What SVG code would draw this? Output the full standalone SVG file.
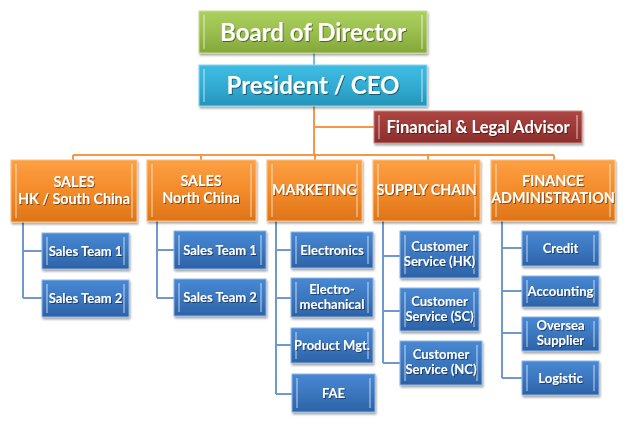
<svg xmlns="http://www.w3.org/2000/svg" width="626" height="429" viewBox="0 0 626 429">
<defs>
<linearGradient id="gGreen" x1="0" y1="0" x2="0" y2="1"><stop offset="0" stop-color="#acd05f"/><stop offset="0.5" stop-color="#9bbf4e"/><stop offset="1" stop-color="#84a63a"/></linearGradient>
<linearGradient id="gTeal" x1="0" y1="0" x2="0" y2="1"><stop offset="0" stop-color="#40bce2"/><stop offset="0.5" stop-color="#33acd3"/><stop offset="1" stop-color="#2494b8"/></linearGradient>
<linearGradient id="gRed" x1="0" y1="0" x2="0" y2="1"><stop offset="0" stop-color="#ad4643"/><stop offset="0.5" stop-color="#9e3a37"/><stop offset="1" stop-color="#8a2e2b"/></linearGradient>
<linearGradient id="gOrange" x1="0" y1="0" x2="0" y2="1"><stop offset="0" stop-color="#fca044"/><stop offset="0.5" stop-color="#f48b2a"/><stop offset="1" stop-color="#dd7418"/></linearGradient>
<linearGradient id="gBlue" x1="0" y1="0" x2="0" y2="1"><stop offset="0" stop-color="#4888d2"/><stop offset="0.5" stop-color="#3b77c0"/><stop offset="1" stop-color="#2d62a6"/></linearGradient>
<filter id="shadow" x="-10%" y="-10%" width="125%" height="140%"><feDropShadow dx="1" dy="2" stdDeviation="1.3" flood-color="#000" flood-opacity="0.35"/></filter>
<filter id="tshadow" x="-10%" y="-30%" width="120%" height="160%"><feDropShadow dx="1" dy="1" stdDeviation="0.6" flood-color="#000" flood-opacity="0.45"/></filter>
</defs>
<style>
.box{filter:url(#shadow);stroke-width:1}
.green{fill:url(#gGreen);stroke:#c6de8f}
.teal{fill:url(#gTeal);stroke:#8ad8f0}
.red{fill:url(#gRed);stroke:#d08a88}
.orange{fill:url(#gOrange);stroke:#fcc27e}
.blue{fill:url(#gBlue);stroke:#8fb6e6}
.hl{fill:#ffffff;opacity:0.35}
.t{font-family:Lato,"Open Sans","Liberation Sans",sans-serif;font-weight:bold;fill:#ffffff;text-anchor:middle;filter:url(#tshadow)}
.t1{font-size:24px}
.t2{font-size:16.5px}
.t3{font-size:14.3px}
.t4{font-size:13px}
.co{fill:none;stroke:#f79646;stroke-width:2}
.ct{fill:none;stroke:#4bacc6;stroke-width:1.5}
.cb{fill:none;stroke:#7098cc;stroke-width:2}
</style>

<g id="connectors">
<line class="ct" x1="314" y1="53" x2="314" y2="65"/>
<path class="co" d="M314 106 V155 M314 127 H374 M73 155 H554 M73 155 V160 M201 155 V160 M315 155 V160 M428 155 V160 M554 155 V160"/>
<path class="cb" d="M23 222 V298 M23 251 H42 M23 298 H42"/>
<path class="cb" d="M157 221 V298 M157 250 H174 M157 298 H174"/>
<path class="cb" d="M276 221 V394 M276 250 H291 M276 298 H291 M276 345 H291 M276 394 H292"/>
<path class="cb" d="M383 221 V363 M383 256 H400 M383 311 H400 M383 363 H400"/>
<path class="cb" d="M502 221 V378 M502 248 H522 M502 291 H522 M502 333 H522 M502 378 H522"/>
</g>

<g id="board">
<rect class="box green" x="199" y="11" width="228" height="42"/>
<rect class="hl" x="203" y="15" width="2" height="34"/><rect class="hl" x="421" y="15" width="2" height="34"/>
<text class="t t1" x="313" y="40.5">Board of Director</text>
</g>
<g id="president">
<rect class="box teal" x="199" y="65" width="228" height="41"/>
<rect class="hl" x="203" y="69" width="2" height="33"/><rect class="hl" x="421" y="69" width="2" height="33"/>
<text class="t t1" x="313" y="93.5">President / CEO</text>
</g>
<g id="advisor">
<rect class="box red" x="374" y="111" width="208" height="32"/>
<rect class="hl" x="378" y="115" width="2" height="24"/><rect class="hl" x="576" y="115" width="2" height="24"/>
<text class="t t2" x="478" y="132.5">Financial &amp; Legal Advisor</text>
</g>

<g id="sales-hk">
<rect class="box orange" x="11" y="160" width="126" height="62"/>
<rect class="hl" x="15" y="164" width="2" height="54"/><rect class="hl" x="131" y="164" width="2" height="54"/>
<text class="t t3" x="74" y="187">SALES</text>
<text class="t t3" x="74" y="203.5">HK / South China</text>
</g>
<g id="sales-nc">
<rect class="box orange" x="147" y="160" width="109" height="61"/>
<rect class="hl" x="151" y="164" width="2" height="53"/><rect class="hl" x="250" y="164" width="2" height="53"/>
<text class="t t3" x="201" y="186">SALES</text>
<text class="t t3" x="201" y="202.5">North China</text>
</g>
<g id="marketing">
<rect class="box orange" x="267" y="160" width="95" height="61"/>
<rect class="hl" x="271" y="164" width="2" height="53"/><rect class="hl" x="356" y="164" width="2" height="53"/>
<text class="t t3" x="314.5" y="195">MARKETING</text>
</g>
<g id="supply-chain">
<rect class="box orange" x="373" y="160" width="107" height="61"/>
<rect class="hl" x="377" y="164" width="2" height="53"/><rect class="hl" x="474" y="164" width="2" height="53"/>
<text class="t t3" x="426.5" y="194.5">SUPPLY CHAIN</text>
</g>
<g id="finance">
<rect class="box orange" x="491" y="160" width="124" height="61"/>
<rect class="hl" x="495" y="164" width="2" height="53"/><rect class="hl" x="609" y="164" width="2" height="53"/>
<text class="t t3" x="553" y="186">FINANCE</text>
<text class="t t3" x="553" y="203">ADMINISTRATION</text>
</g>

<g id="hk-team1">
<rect class="box blue" x="42" y="233" width="87" height="36"/>
<rect class="hl" x="46" y="237" width="2" height="28"/><rect class="hl" x="123" y="237" width="2" height="28"/>
<text class="t t4" x="85.5" y="255.5">Sales Team 1</text>
</g>
<g id="hk-team2">
<rect class="box blue" x="42" y="280" width="87" height="37"/>
<rect class="hl" x="46" y="284" width="2" height="29"/><rect class="hl" x="123" y="284" width="2" height="29"/>
<text class="t t4" x="85.5" y="303">Sales Team 2</text>
</g>
<g id="nc-team1">
<rect class="box blue" x="174" y="231" width="92" height="38"/>
<rect class="hl" x="178" y="235" width="2" height="30"/><rect class="hl" x="260" y="235" width="2" height="30"/>
<text class="t t4" x="220" y="254.5">Sales Team 1</text>
</g>
<g id="nc-team2">
<rect class="box blue" x="174" y="279" width="92" height="37"/>
<rect class="hl" x="178" y="283" width="2" height="29"/><rect class="hl" x="260" y="283" width="2" height="29"/>
<text class="t t4" x="220" y="302">Sales Team 2</text>
</g>

<g id="electronics">
<rect class="box blue" x="291" y="232" width="82" height="36"/>
<rect class="hl" x="295" y="236" width="2" height="28"/><rect class="hl" x="367" y="236" width="2" height="28"/>
<text class="t t4" x="332" y="254.5">Electronics</text>
</g>
<g id="electro-mechanical">
<rect class="box blue" x="291" y="278" width="82" height="39"/>
<rect class="hl" x="295" y="282" width="2" height="31"/><rect class="hl" x="367" y="282" width="2" height="31"/>
<text class="t t4" x="332" y="294">Electro-</text>
<text class="t t4" x="332" y="309">mechanical</text>
</g>
<g id="product-mgt">
<rect class="box blue" x="291" y="328" width="82" height="35"/>
<rect class="hl" x="295" y="332" width="2" height="27"/><rect class="hl" x="367" y="332" width="2" height="27"/>
<text class="t t4" x="332" y="350">Product Mgt.</text>
</g>
<g id="fae">
<rect class="box blue" x="292" y="374" width="83" height="38"/>
<rect class="hl" x="296" y="378" width="2" height="30"/><rect class="hl" x="369" y="378" width="2" height="30"/>
<text class="t t4" x="333.5" y="397.5">FAE</text>
</g>

<g id="cs-hk">
<rect class="box blue" x="400" y="231" width="79" height="47"/>
<rect class="hl" x="404" y="235" width="2" height="39"/><rect class="hl" x="473" y="235" width="2" height="39"/>
<text class="t t4" x="439.5" y="251">Customer</text>
<text class="t t4" x="439.5" y="266">Service (HK)</text>
</g>
<g id="cs-sc">
<rect class="box blue" x="400" y="288" width="79" height="43"/>
<rect class="hl" x="404" y="292" width="2" height="35"/><rect class="hl" x="473" y="292" width="2" height="35"/>
<text class="t t4" x="439.5" y="306">Customer</text>
<text class="t t4" x="439.5" y="321">Service (SC)</text>
</g>
<g id="cs-nc">
<rect class="box blue" x="400" y="341" width="82" height="44"/>
<rect class="hl" x="404" y="345" width="2" height="36"/><rect class="hl" x="476" y="345" width="2" height="36"/>
<text class="t t4" x="441" y="359">Customer</text>
<text class="t t4" x="441" y="374">Service (NC)</text>
</g>

<g id="credit">
<rect class="box blue" x="522" y="231" width="77" height="35"/>
<rect class="hl" x="526" y="235" width="2" height="27"/><rect class="hl" x="593" y="235" width="2" height="27"/>
<text class="t t4" x="560.5" y="253">Credit</text>
</g>
<g id="accounting">
<rect class="box blue" x="522" y="276" width="77" height="31"/>
<rect class="hl" x="526" y="280" width="2" height="23"/><rect class="hl" x="593" y="280" width="2" height="23"/>
<text class="t t4" x="560.5" y="296">Accounting</text>
</g>
<g id="oversea-supplier">
<rect class="box blue" x="522" y="317" width="77" height="34"/>
<rect class="hl" x="526" y="321" width="2" height="26"/><rect class="hl" x="593" y="321" width="2" height="26"/>
<text class="t t4" x="560.5" y="330">Oversea</text>
<text class="t t4" x="560.5" y="345">Supplier</text>
</g>
<g id="logistic">
<rect class="box blue" x="522" y="361" width="77" height="34"/>
<rect class="hl" x="526" y="365" width="2" height="26"/><rect class="hl" x="593" y="365" width="2" height="26"/>
<text class="t t4" x="560.5" y="382.5">Logistic</text>
</g>
</svg>
